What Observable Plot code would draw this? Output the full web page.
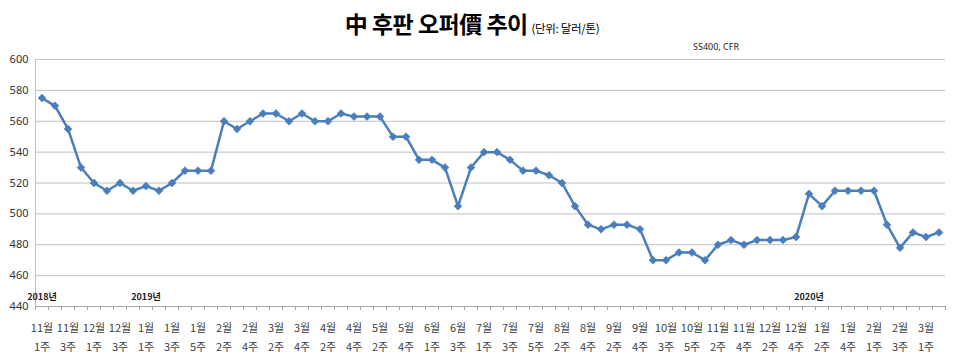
<!DOCTYPE html>
<html>
<head>
<meta charset="utf-8">
<script src="https://cdn.jsdelivr.net/npm/d3@7"></script>
<script src="https://cdn.jsdelivr.net/npm/@observablehq/plot@0.6"></script>
<style>
  html, body { margin: 0; padding: 0; background: #fff; }
  #wrap { position: relative; width: 960px; height: 363px; font-family: "Noto Sans CJK KR", sans-serif; }
  #title { position: absolute; left: -8px; top: 6px; width: 960px; text-align: center; white-space: nowrap; }
  #title .main { font-size: 23px; font-weight: 700; color: #000; letter-spacing: -0.5px; }
  #title .unit { font-size: 11.5px; color: #000; letter-spacing: -0.3px; }
  #note { position: absolute; left: 693px; top: 40px; font-size: 9px; color: #222; font-family: "Noto Sans", sans-serif; }
  #chart { position: absolute; left: 0; top: 0; }
</style>
</head>
<body>
<div id="wrap">
  <div id="chart"></div>
  <div id="title"><span class="main">中 후판 오퍼價 추이</span> <span class="unit">(단위: 달러/톤)</span></div>
  <div id="note">SS400, CFR</div>
</div>
<script>
// weekly offer price (USD/t), Nov 2018 wk1 .. Mar 2020 wk2
const prices = [
  575, 570, 555, 530, 520, 515, 520, 515, 518, 515,
  520, 528, 528, 528, 560, 555, 560, 565, 565, 560,
  565, 560, 560, 565, 563, 563, 563, 550, 550, 535,
  535, 530, 505, 530, 540, 540, 535, 528, 528, 525,
  520, 505, 493, 490, 493, 493, 490, 470, 470, 475,
  475, 470, 480, 483, 480, 483, 483, 483, 485, 513,
  505, 515, 515, 515, 515, 493, 478, 488, 485, 488
];
// labels shown on every other week
const monthLabels = ["11월","11월","12월","12월","1월","1월","1월","2월","2월","3월","3월","4월","4월","5월","5월","6월","6월","7월","7월","7월","8월","8월","9월","9월","10월","10월","11월","11월","12월","12월","1월","1월","2월","2월","3월"];
const weekLabels  = ["1주","3주","1주","3주","1주","3주","5주","2주","4주","2주","4주","2주","4주","2주","4주","1주","3주","1주","3주","5주","2주","4주","2주","4주","3주","5주","2주","4주","2주","4주","2주","4주","1주","3주","1주"];
const yearLabels = ["2018년", "2019년", "2020년"];
const yearStartIndex = [0, 8, 59];
const yTicks = [440, 460, 480, 500, 520, 540, 560, 580, 600];

const data = prices.map((v, i) => ({i, v}));
const labelData = monthLabels.map((m, k) => ({i: k * 2, m, w: weekLabels[k]}));
const boundaries = d3.range(prices.length + 1).map(i => i - 0.5);
const years = yearLabels.map((t, k) => ({i: yearStartIndex[k], t}));

const blue = "#4A7EBB";
const font = "'Noto Sans CJK KR', sans-serif";

const chart = Plot.plot({
  width: 960,
  height: 363,
  marginTop: 59,
  marginBottom: 57,
  marginLeft: 35,
  marginRight: 15,
  style: {fontFamily: font, background: "white"},
  x: {domain: [-0.5, prices.length - 0.5], axis: null},
  y: {domain: [440, 600], axis: null},
  marks: [
    Plot.ruleY(yTicks.filter(d => d > 440), {stroke: "#c0c0c0", strokeWidth: 1}),
    Plot.ruleY([440], {stroke: "#a6a6a6", strokeWidth: 1}),
    Plot.ruleX([-0.5], {stroke: "#c0c0c0", strokeWidth: 1}),
    Plot.axisX({ticks: boundaries, tickFormat: () => "", tickSize: 4, stroke: "#a6a6a6", label: null}),
    Plot.axisY({ticks: yTicks, tickSize: 0, tickPadding: 7, fontSize: 11, fill: "#333", fontFamily: "'Noto Sans', sans-serif", label: null}),
    Plot.text(labelData, {x: "i", text: "m", frameAnchor: "bottom", dy: 22, fontSize: 11, fill: "#404040", lineAnchor: "middle", letterSpacing: -0.3}),
    Plot.text(labelData, {x: "i", text: "w", frameAnchor: "bottom", dy: 41, fontSize: 11, fill: "#404040", lineAnchor: "middle", letterSpacing: -0.3}),
    Plot.text(years, {x: "i", text: "t", frameAnchor: "bottom", dy: -9, fontSize: 9, fill: "#222", lineAnchor: "middle", fontWeight: 600}),
    Plot.line(data, {x: "i", y: "v", stroke: blue, strokeWidth: 2.5, strokeLinejoin: "round"}),
    Plot.dot(data, {x: "i", y: "v", symbol: "diamond2", r: 3.6, fill: blue, stroke: blue, strokeWidth: 0.5})
  ]
});
document.getElementById("chart").appendChild(chart);
</script>
</body>
</html>
